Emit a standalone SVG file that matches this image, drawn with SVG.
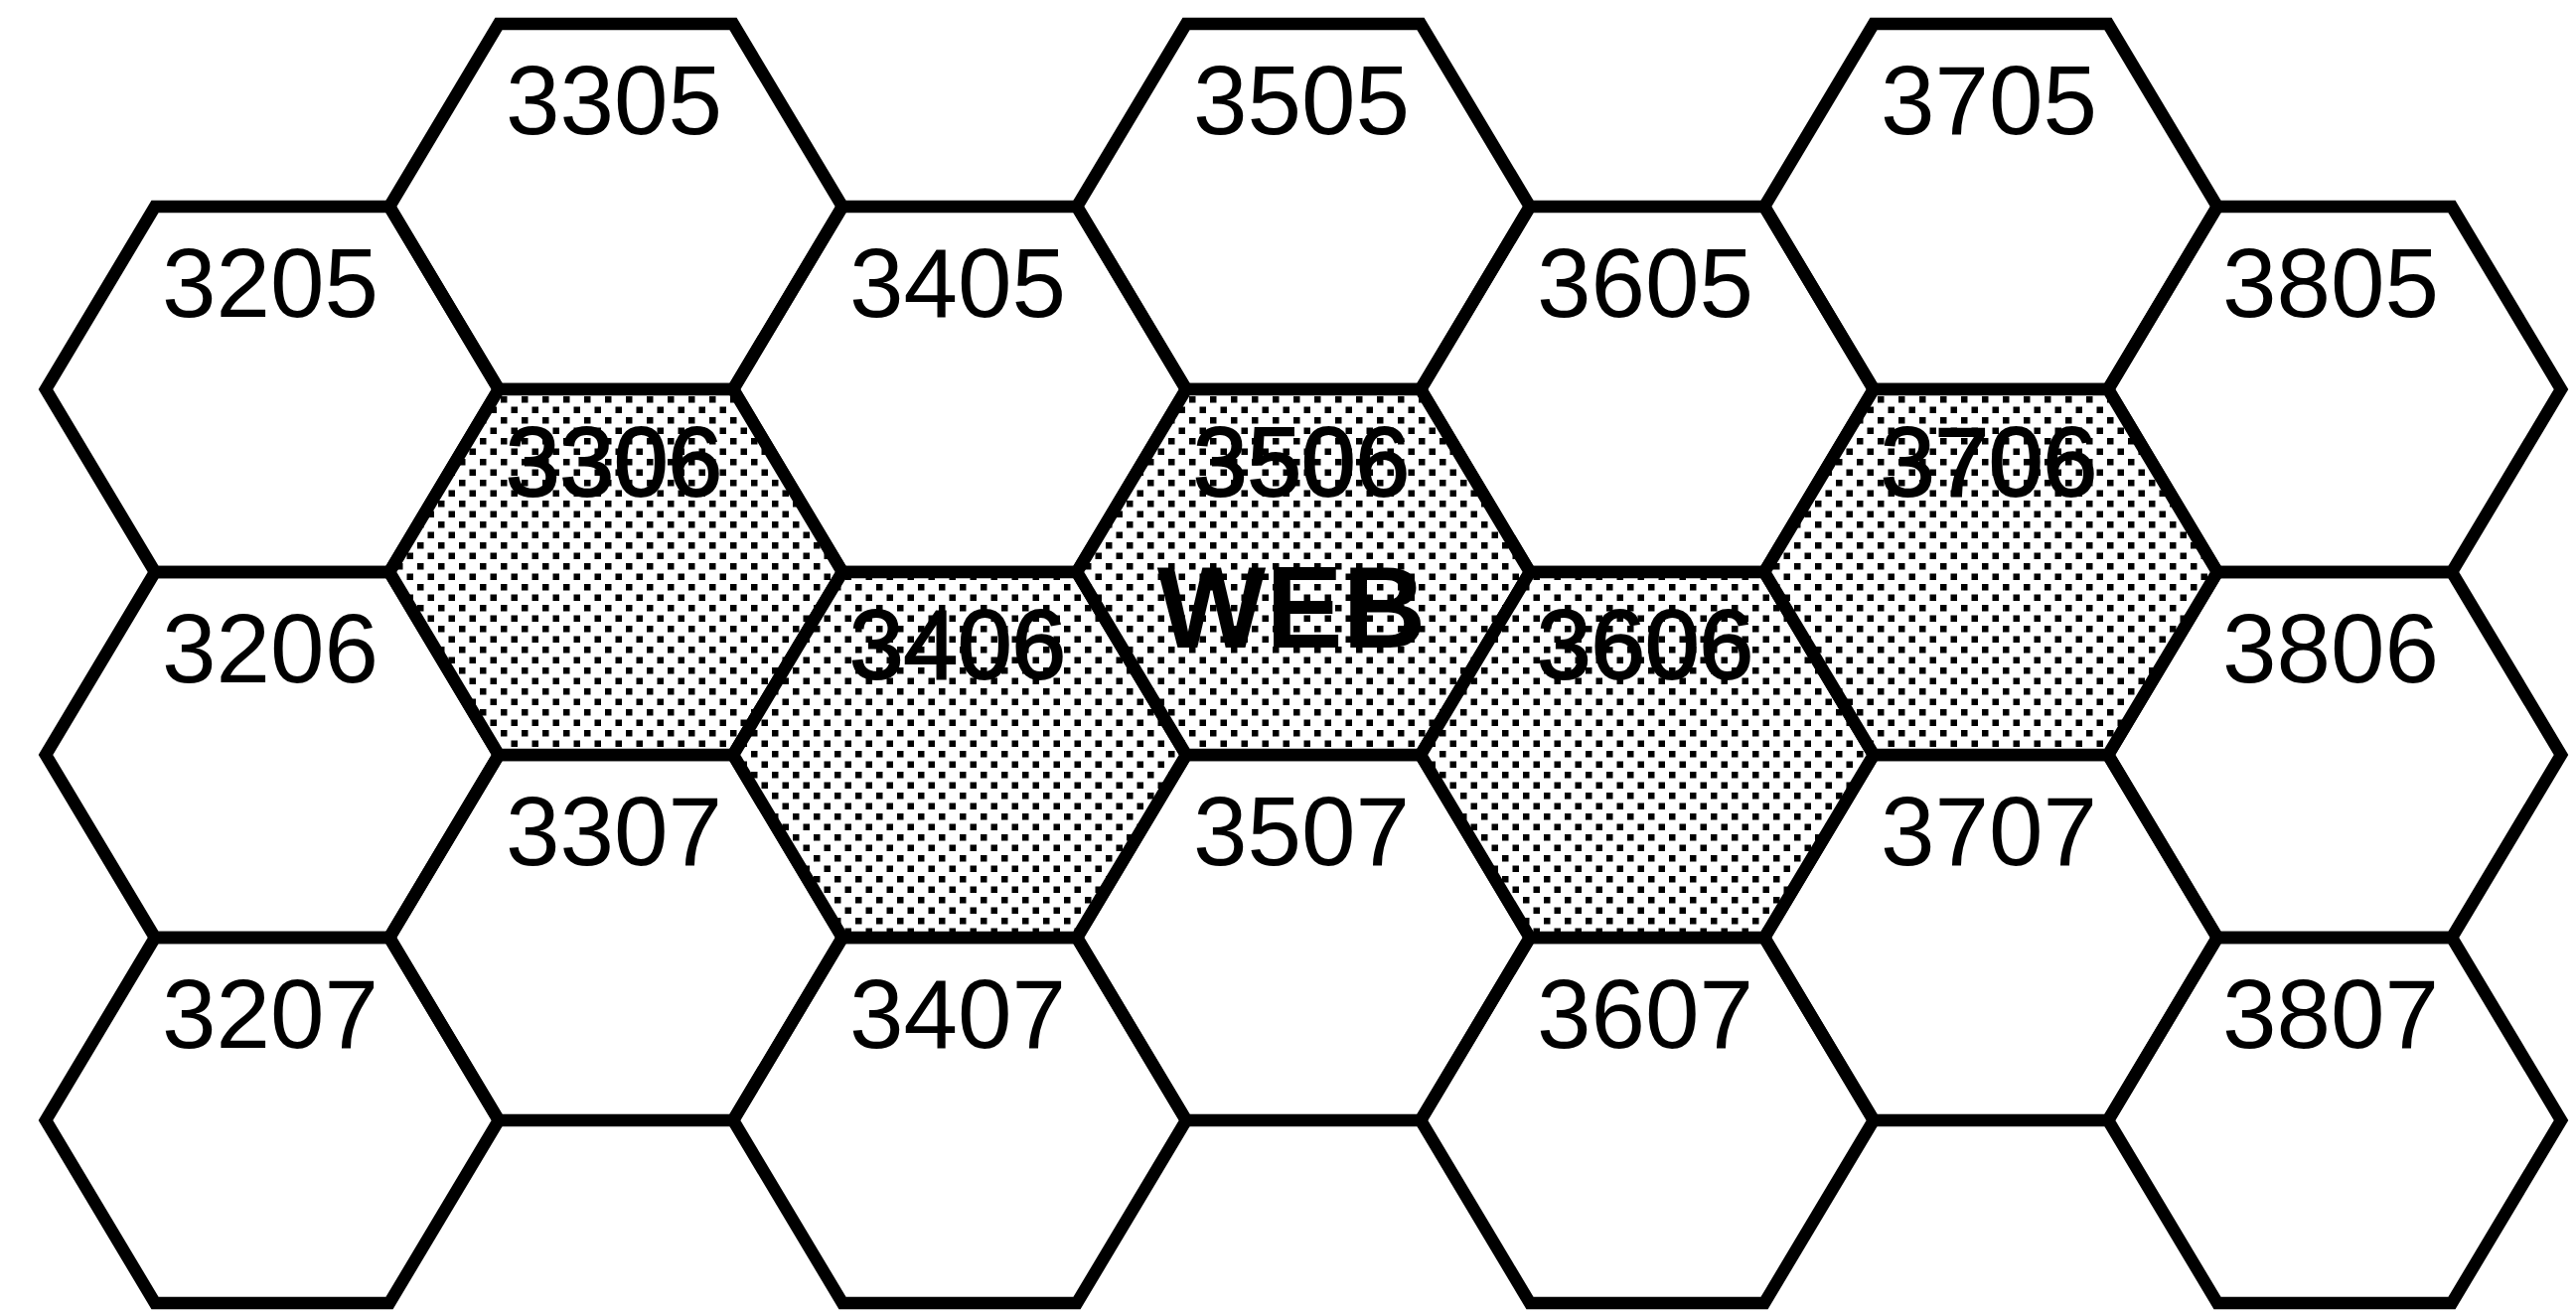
<svg xmlns="http://www.w3.org/2000/svg" width="2593" height="1324" viewBox="0 0 2593 1324">
<style>
.hex{fill:none;stroke:#000;stroke-width:12.5;stroke-linejoin:miter}
.sh{fill:url(#dots);stroke:#000;stroke-width:12.5;stroke-linejoin:miter}
.lbl{font-family:"Liberation Sans",Arial,Helvetica,sans-serif;font-size:98px;text-anchor:middle;fill:#000}
.slbl{font-family:"Liberation Sans",Arial,Helvetica,sans-serif;font-size:98px;text-anchor:middle;fill:#000;stroke:#000;stroke-width:2}
.web{font-family:"Liberation Sans",Arial,Helvetica,sans-serif;font-size:116px;font-weight:bold;text-anchor:middle;fill:#000}
</style>
<defs>
<pattern id="dots" width="21" height="21" patternUnits="userSpaceOnUse">
<rect width="21" height="21" fill="#fff"/>
<rect x="0" y="0" width="6.5" height="6.5" fill="#000"/>
<rect x="10.5" y="10.5" width="6.5" height="6.5" fill="#000"/>
</pattern>
</defs>
<rect width="2593" height="1324" fill="#fff"/>
<g id="hexes">
<g id="h3205"><polygon class="hex" points="46,392 156,208 392,208 502,392 392,576 156,576"/><text class="lbl" x="272" y="319">3205</text></g>
<g id="h3206"><polygon class="hex" points="46,760 156,576 392,576 502,760 392,944 156,944"/><text class="lbl" x="272" y="687">3206</text></g>
<g id="h3207"><polygon class="hex" points="46,1128 156,944 392,944 502,1128 392,1312 156,1312"/><text class="lbl" x="272" y="1055">3207</text></g>
<g id="h3305"><polygon class="hex" points="392,208 502,24 738,24 848,208 738,392 502,392"/><text class="lbl" x="618" y="135">3305</text></g>
<g id="h3307"><polygon class="hex" points="392,944 502,760 738,760 848,944 738,1128 502,1128"/><text class="lbl" x="618" y="871">3307</text></g>
<g id="h3405"><polygon class="hex" points="738,392 848,208 1084,208 1194,392 1084,576 848,576"/><text class="lbl" x="964" y="319">3405</text></g>
<g id="h3407"><polygon class="hex" points="738,1128 848,944 1084,944 1194,1128 1084,1312 848,1312"/><text class="lbl" x="964" y="1055">3407</text></g>
<g id="h3505"><polygon class="hex" points="1084,208 1194,24 1430,24 1540,208 1430,392 1194,392"/><text class="lbl" x="1310" y="135">3505</text></g>
<g id="h3507"><polygon class="hex" points="1084,944 1194,760 1430,760 1540,944 1430,1128 1194,1128"/><text class="lbl" x="1310" y="871">3507</text></g>
<g id="h3605"><polygon class="hex" points="1430,392 1540,208 1776,208 1886,392 1776,576 1540,576"/><text class="lbl" x="1656" y="319">3605</text></g>
<g id="h3607"><polygon class="hex" points="1430,1128 1540,944 1776,944 1886,1128 1776,1312 1540,1312"/><text class="lbl" x="1656" y="1055">3607</text></g>
<g id="h3705"><polygon class="hex" points="1776,208 1886,24 2122,24 2232,208 2122,392 1886,392"/><text class="lbl" x="2002" y="135">3705</text></g>
<g id="h3707"><polygon class="hex" points="1776,944 1886,760 2122,760 2232,944 2122,1128 1886,1128"/><text class="lbl" x="2002" y="871">3707</text></g>
<g id="h3805"><polygon class="hex" points="2122,392 2232,208 2468,208 2578,392 2468,576 2232,576"/><text class="lbl" x="2346" y="319">3805</text></g>
<g id="h3806"><polygon class="hex" points="2122,760 2232,576 2468,576 2578,760 2468,944 2232,944"/><text class="lbl" x="2346" y="687">3806</text></g>
<g id="h3807"><polygon class="hex" points="2122,1128 2232,944 2468,944 2578,1128 2468,1312 2232,1312"/><text class="lbl" x="2346" y="1055">3807</text></g>
<g id="h3306"><polygon class="sh" points="392,576 502,392 738,392 848,576 738,760 502,760"/><text class="slbl" x="618" y="499">3306</text></g>
<g id="h3406"><polygon class="sh" points="738,760 848,576 1084,576 1194,760 1084,944 848,944"/><text class="slbl" x="964" y="683">3406</text></g>
<g id="h3506"><polygon class="sh" points="1084,576 1194,392 1430,392 1540,576 1430,760 1194,760"/><text class="slbl" x="1310" y="499">3506</text><text class="web" x="1300" y="652">WEB</text></g>
<g id="h3606"><polygon class="sh" points="1430,760 1540,576 1776,576 1886,760 1776,944 1540,944"/><text class="slbl" x="1656" y="683">3606</text></g>
<g id="h3706"><polygon class="sh" points="1776,576 1886,392 2122,392 2232,576 2122,760 1886,760"/><text class="slbl" x="2002" y="499">3706</text></g>
</g>
<g id="connectors"/>
</svg>
